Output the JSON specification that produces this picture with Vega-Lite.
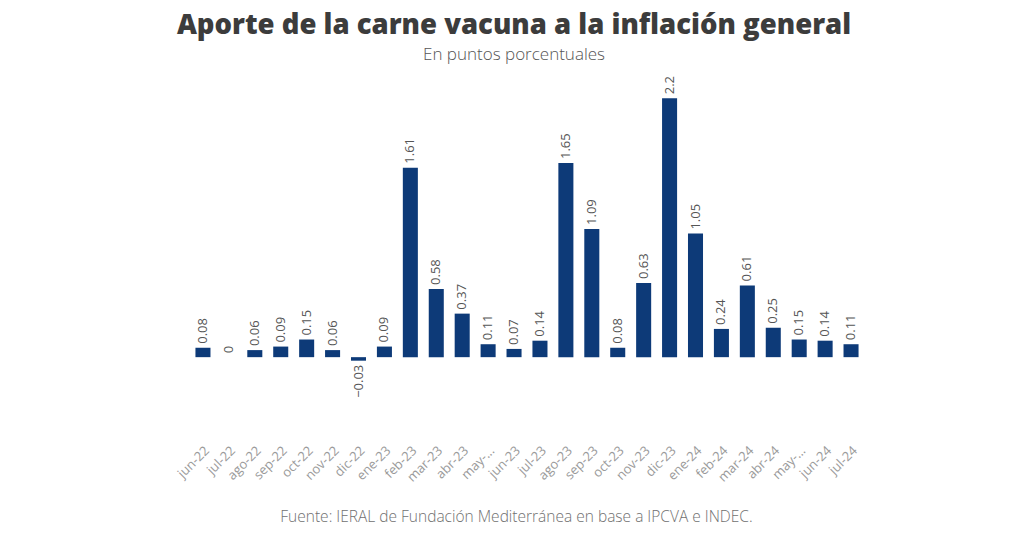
{
  "$schema": "https://vega.github.io/schema/vega-lite/v6.json",
  "autosize": "none",
  "width": 674,
  "height": 373,
  "padding": {"left": 190, "top": 63, "right": 160, "bottom": 102},
  "background": "white",
  "title": {
    "text": "Aporte de la carne vacuna a la inflación general",
    "subtitle": "En puntos porcentuales",
    "anchor": "middle",
    "dx": -13,
    "offset": 0,
    "font": "Open Sans",
    "fontSize": 27.5,
    "fontWeight": 800,
    "color": "#3c3c3c",
    "subtitleFont": "Open Sans",
    "subtitleFontSize": 17,
    "subtitleFontWeight": 300,
    "subtitleColor": "#555555",
    "subtitlePadding": 8
  },
  "data": {
    "values": [
      {"mes": "jun-22", "valor": 0.08},
      {"mes": "jul-22", "valor": 0},
      {"mes": "ago-22", "valor": 0.06},
      {"mes": "sep-22", "valor": 0.09},
      {"mes": "oct-22", "valor": 0.15},
      {"mes": "nov-22", "valor": 0.06},
      {"mes": "dic-22", "valor": -0.03},
      {"mes": "ene-23", "valor": 0.09},
      {"mes": "feb-23", "valor": 1.61},
      {"mes": "mar-23", "valor": 0.58},
      {"mes": "abr-23", "valor": 0.37},
      {"mes": "may-23", "valor": 0.11},
      {"mes": "jun-23", "valor": 0.07},
      {"mes": "jul-23", "valor": 0.14},
      {"mes": "ago-23", "valor": 1.65},
      {"mes": "sep-23", "valor": 1.09},
      {"mes": "oct-23", "valor": 0.08},
      {"mes": "nov-23", "valor": 0.63},
      {"mes": "dic-23", "valor": 2.2},
      {"mes": "ene-24", "valor": 1.05},
      {"mes": "feb-24", "valor": 0.24},
      {"mes": "mar-24", "valor": 0.61},
      {"mes": "abr-24", "valor": 0.25},
      {"mes": "may-24", "valor": 0.15},
      {"mes": "jun-24", "valor": 0.14},
      {"mes": "jul-24", "valor": 0.11}
    ]
  },
  "encoding": {
    "x": {
      "field": "mes",
      "type": "ordinal",
      "sort": null,
      "scale": {"paddingInner": 0.42, "paddingOuter": 0.21},
      "axis": {
        "title": "Fuente: IERAL de Fundación Mediterránea en base a IPCVA e INDEC.",
        "titleFont": "Open Sans",
        "titleFontSize": 15.5,
        "titleFontWeight": 300,
        "titleColor": "#707070",
        "titleX": 326,
        "titleY": 73,
        "labelAngle": -45,
        "labelFont": "Open Sans",
        "labelFontSize": 13,
        "labelColor": "#9a9a9a",
        "labelPadding": 8,
        "labelExpr": "indexof(datum.label, 'may') == 0 ? 'may-...' : datum.label",
        "ticks": false,
        "tickSize": 0,
        "domain": false,
        "grid": false
      }
    },
    "y": {
      "field": "valor",
      "type": "quantitative",
      "scale": {"domain": [-0.67, 2.5], "nice": false, "zero": true},
      "axis": null
    }
  },
  "layer": [
    {
      "mark": {"type": "bar", "color": "#0d3a78"}
    },
    {
      "transform": [{"filter": "datum.valor >= 0"}],
      "mark": {
        "type": "text",
        "angle": 270,
        "align": "left",
        "baseline": "middle",
        "dx": 4,
        "font": "Open Sans",
        "fontSize": 13,
        "color": "#555555"
      },
      "encoding": {"text": {"field": "valor", "type": "quantitative"}}
    },
    {
      "transform": [{"filter": "datum.valor < 0"}],
      "mark": {
        "type": "text",
        "angle": 270,
        "align": "right",
        "baseline": "middle",
        "dx": -4,
        "font": "Open Sans",
        "fontSize": 13,
        "color": "#555555"
      },
      "encoding": {"text": {"field": "valor", "type": "quantitative"}}
    }
  ],
  "config": {"view": {"stroke": null}}
}
